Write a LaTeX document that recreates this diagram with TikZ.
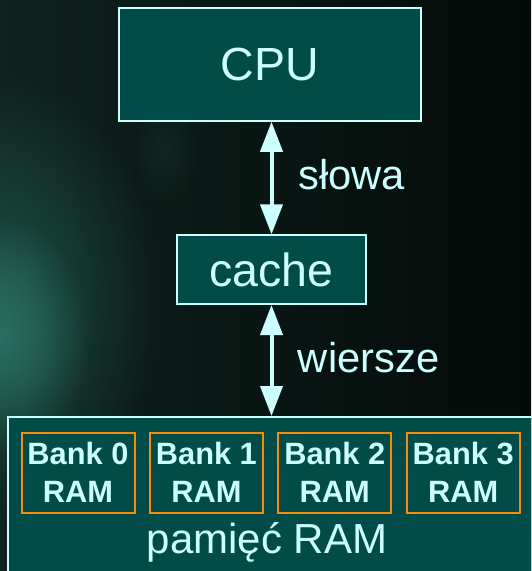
\documentclass[tikz,border=0pt]{standalone}
\usepackage{fontspec}
\setmainfont{Liberation Sans}
\usetikzlibrary{arrows.meta,fadings}
\definecolor{bgdark}{RGB}{4,10,8}
\definecolor{bgleft}{RGB}{14,34,30}
\definecolor{glowc}{RGB}{42,112,99}
\definecolor{boxfill}{RGB}{1,76,72}
\definecolor{boxline}{RGB}{204,255,255}
\definecolor{bankline}{RGB}{245,140,10}
\tikzfading[name=glowfade, inner color=transparent!0, outer color=transparent!100]
\tikzset{
  unitbox/.style={draw=boxline, line width=2pt, fill=boxfill, text=boxline, inner sep=0pt},
  bankbox/.style={draw=bankline, line width=2pt, fill=boxfill, text=boxline, inner sep=0pt,
    minimum width=113pt, minimum height=80pt, align=center,
    font=\bfseries\fontsize{30.8}{37.4}\selectfont},
  linklabel/.style={text=boxline, inner sep=0pt, anchor=base west, font=\fontsize{41.7}{48}\selectfont},
  linkarrow/.style={draw=boxline, line width=4pt,
    {Triangle[length=30pt,width=22pt]}-{Triangle[length=30pt,width=22pt]}}
}
\begin{document}
\begin{tikzpicture}[x=1pt,y=-1pt]
\useasboundingbox (0,0) rectangle (531,571);
\clip (0,0) rectangle (531,571);
% background
\shade[left color=bgleft, right color=bgdark] (0,0) rectangle (531,571);
\fill[glowc, opacity=0.6, path fading=glowfade] (0,300) ellipse [x radius=160, y radius=230];
\fill[glowc, path fading=glowfade] (0,337) ellipse [x radius=90, y radius=120];
\fill[glowc, opacity=0.15, path fading=glowfade] (165,150) ellipse [x radius=35, y radius=55];
% boxes
\node[unitbox, minimum width=301.5pt, minimum height=112.5pt, font=\fontsize{46.5}{52}\selectfont] (cpu) at (270,64.5) {CPU};
\node[unitbox, minimum width=188.6pt, minimum height=68.7pt, font=\fontsize{46.5}{52}\selectfont] (cache) at (271.5,269.7) {cache};
\node[unitbox, minimum width=540pt, minimum height=174pt, anchor=north west] (ram) at (7,416) {};
\node[text=boxline, inner sep=0pt, anchor=base, font=\fontsize{42}{48}\selectfont] (ramlabel) at (267,553) {pamięć RAM};
\node[bankbox] (bank0) at (78,472.5) {Bank 0\\RAM};
\node[bankbox] (bank1) at (206.4,472.5) {Bank 1\\RAM};
\node[bankbox] (bank2) at (334.8,472.5) {Bank 2\\RAM};
\node[bankbox] (bank3) at (463.2,472.5) {Bank 3\\RAM};
% connectors
\draw[linkarrow] (cache.north |- cpu.south) -- (cache.north);
\draw[linkarrow] (cache.south) -- (cache.south |- ram.north);
\node[linklabel] (slowa) at (298.3,189) {słowa};
\node[linklabel] (wiersze) at (297.7,372.7) {wiersze};
\end{tikzpicture}
\end{document}
